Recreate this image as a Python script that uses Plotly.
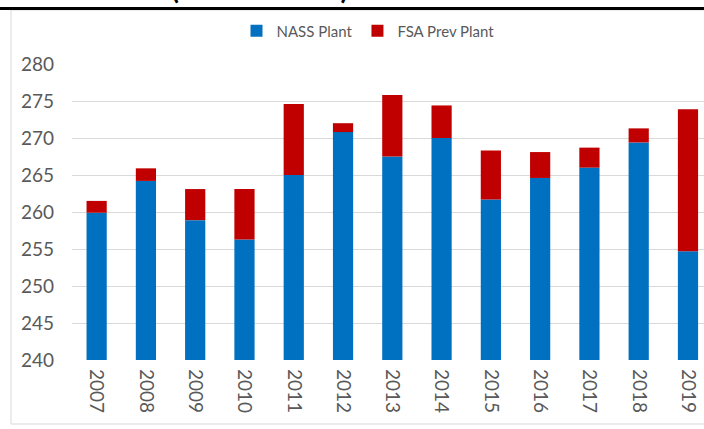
import plotly.graph_objects as go

years = ["2007", "2008", "2009", "2010", "2011", "2012", "2013",
         "2014", "2015", "2016", "2017", "2018", "2019"]
nass_plant = [259.9, 264.2, 258.9, 256.3, 265.0, 270.8, 267.5,
              270.0, 261.7, 264.6, 266.0, 269.4, 254.7]
totals = [261.5, 265.9, 263.1, 263.1, 274.6, 272.0, 275.8,
          274.4, 268.3, 268.1, 268.7, 271.3, 273.9]
fsa_prev_plant = [round(t - n, 2) for t, n in zip(totals, nass_plant)]
y_ticks = [240, 245, 250, 255, 260, 265, 270, 275, 280]

BLUE = "#0070C0"
RED = "#C00000"
GRAY_TXT = "#595959"
GRID = "#D9D9D9"
FONT = "Lato"

fig = go.Figure()
fig.add_trace(go.Bar(x=years, y=[n - 240 for n in nass_plant], base=240,
                     name="NASS Plant", marker=dict(color=BLUE, line=dict(width=0))))
fig.add_trace(go.Bar(x=years, y=fsa_prev_plant, base=nass_plant,
                     name="FSA Prev Plant", marker=dict(color=RED, line=dict(width=0))))

L, R, T, B = 72, 704, 64, 360
W, H = 704, 429
pw, ph = R - L, B - T

def px_x(x):
    return (x - L) / pw

def px_y(y):
    return (B - y) / ph

fig.update_layout(
    width=W, height=H,
    margin=dict(l=L, r=W - R, t=T, b=H - B, pad=0),
    paper_bgcolor="white", plot_bgcolor="white",
    barmode="overlay", bargap=0.59,
    font=dict(family=FONT, color=GRAY_TXT),
    showlegend=True,
    legend=dict(orientation="h", x=px_x(368), xanchor="center",
                y=px_y(31), yanchor="middle",
                font=dict(size=15, color=GRAY_TXT, family=FONT),
                itemwidth=30, traceorder="normal", bgcolor="rgba(0,0,0,0)"),
    xaxis=dict(type="category", range=[-0.5, 12.325], tickangle=90,
               tickfont=dict(size=19, color=GRAY_TXT, family=FONT),
               showgrid=False, showline=False, ticks="", ticklabelstandoff=8),
    yaxis=dict(range=[240, 280], tickvals=y_ticks, ticks="",
               tickfont=dict(size=19, color=GRAY_TXT, family=FONT),
               showgrid=True, gridcolor=GRID, gridwidth=1,
               zeroline=False, showline=False, ticklabelstandoff=17),
    shapes=[
        dict(type="rect", xref="paper", yref="paper",
             x0=px_x(11), x1=px_x(720), y0=px_y(424), y1=px_y(10),
             line=dict(color=GRID, width=1), fillcolor="rgba(0,0,0,0)", layer="below"),
        dict(type="line", xref="paper", yref="paper",
             x0=px_x(0), x1=px_x(720), y0=px_y(8.5), y1=px_y(8.5),
             line=dict(color="black", width=3)),
    ],
    annotations=[
        dict(text="<b>Total Acres (Million Acres)</b>", xref="paper", yref="paper",
             x=px_x(350), xanchor="right", y=px_y(6), yanchor="middle",
             yshift=18, showarrow=False,
             font=dict(size=28, color="black", family=FONT)),
    ],
)

fig.write_html("out.html", config={"displayModeBar": False},
               post_script="document.body.style.margin='0';document.body.style.overflow='hidden';")
